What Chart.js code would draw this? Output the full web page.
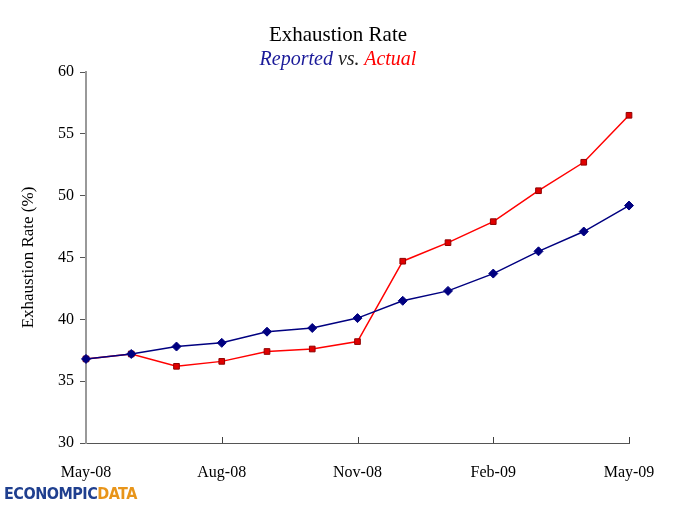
<!DOCTYPE html>
<html>
<head>
<meta charset="utf-8">
<script src="https://cdn.jsdelivr.net/npm/chart.js@4/dist/chart.umd.min.js"></script>
<style>
    body { margin: 0; background: #fff; }
    #wrap { position: relative; width: 676px; height: 507px; }
    #title { position: absolute; left: 0; width: 676px; top: 22px; text-align: center;
        font-family: 'Liberation Serif', serif; font-size: 21px; color: #000; }
    #subtitle { position: absolute; left: 0; width: 676px; top: 47px; text-align: center;
        font-family: 'Liberation Serif', serif; font-size: 20px; font-style: italic; }
    #logo { position: absolute; left: 4px; top: 484px; font-family: 'Liberation Sans Narrow', 'DejaVu Sans Condensed', sans-serif;
        font-weight: bold; font-size: 16px; letter-spacing: -0.5px; }
</style>
</head>
<body>
<div id="wrap">
    <canvas id="rateChart" width="676" height="507"></canvas>
    <div id="title">Exhaustion Rate</div>
    <div id="subtitle"><span style="color:#1a1a99">Reported</span> <span style="color:#222">vs.</span> <span style="color:#ff0000">Actual</span></div>
    <div id="logo"><span style="color:#1f3f8f">ECONOMPIC</span><span style="color:#e8951a">DATA</span></div>
</div>
<script>
/* Data */
const months = ['May-08', 'Jun-08', 'Jul-08', 'Aug-08', 'Sep-08', 'Oct-08', 'Nov-08',
    'Dec-08', 'Jan-09', 'Feb-09', 'Mar-09', 'Apr-09', 'May-09']
const reported = [36.8, 37.2, 37.8, 38.1, 39.0, 39.3, 40.1, 41.5, 42.3, 43.7, 45.5, 47.1, 49.2]
const actual = [36.8, 37.2, 36.2, 36.6, 37.4, 37.6, 38.2, 44.7, 46.2, 47.9, 50.4, 52.7, 56.5]
const yTicks = [30, 35, 40, 45, 50, 55, 60]

const serif = "'Liberation Serif', serif"

/* Upward tick marks on the x axis, every third month */
const upTicks = {
    id: 'upTicks',
    afterDraw(chart) {
        const ctx = chart.ctx
        const x = chart.scales.x
        const bottom = chart.chartArea.bottom
        ctx.save()
        ctx.strokeStyle = '#404040'
        ctx.lineWidth = 1
        months.forEach((m, i) => {
            if (i % 3 == 0 && i > 0) {
                const px = Math.round(x.getPixelForValue(i)) + 0.5
                ctx.beginPath()
                ctx.moveTo(px, bottom)
                ctx.lineTo(px, bottom - 6)
                ctx.stroke()
            }
        })
        ctx.restore()
    }
}

new Chart(document.getElementById('rateChart'), {
    type: 'line',
    data: {
        labels: months,
        datasets: [{
            label: 'Reported',
            data: reported,
            borderColor: '#000080',
            backgroundColor: '#000080',
            borderWidth: 1.5,
            pointStyle: 'rectRot',
            pointRadius: 4.5,
            pointBorderWidth: 1,
            tension: 0
        }, {
            label: 'Actual',
            data: actual,
            borderColor: '#ff0000',
            backgroundColor: '#e00000',
            pointBorderColor: '#900000',
            borderWidth: 1.5,
            pointStyle: 'rect',
            pointRadius: 4,
            pointBorderWidth: 1,
            tension: 0
        }]
    },
    options: {
        responsive: false,
        animation: false,
        layout: { padding: { left: 0, top: 72, right: 47, bottom: 0 } },
        plugins: {
            legend: { display: false },
            tooltip: { enabled: false }
        },
        scales: {
            x: {
                offset: false,
                grid: { display: false },
                border: { display: true, color: '#555', width: 1 },
                ticks: {
                    autoSkip: false,
                    maxRotation: 0,
                    padding: 12,
                    color: '#000',
                    font: { family: serif, size: 16 },
                    callback: (v, i) => (i % 3 == 0 ? months[i] : '')
                },
                afterFit: scale => { scale.height = 64 }
            },
            y: {
                min: 30,
                max: 60,
                afterBuildTicks: scale => { scale.ticks = yTicks.map(v => ({ value: v })) },
                grid: { drawOnChartArea: false, drawTicks: true, tickLength: 6, color: '#555' },
                border: { display: true, color: '#999', width: 2 },
                ticks: {
                    padding: 6,
                    color: '#000',
                    font: { family: serif, size: 16 }
                },
                title: {
                    display: true,
                    text: 'Exhaustion Rate (%)',
                    color: '#000',
                    font: { family: serif, size: 17 },
                    padding: { top: 18, bottom: 8 }
                },
                afterFit: scale => { scale.width = 86 }
            }
        }
    },
    plugins: [upTicks]
})
</script>
</body>
</html>
